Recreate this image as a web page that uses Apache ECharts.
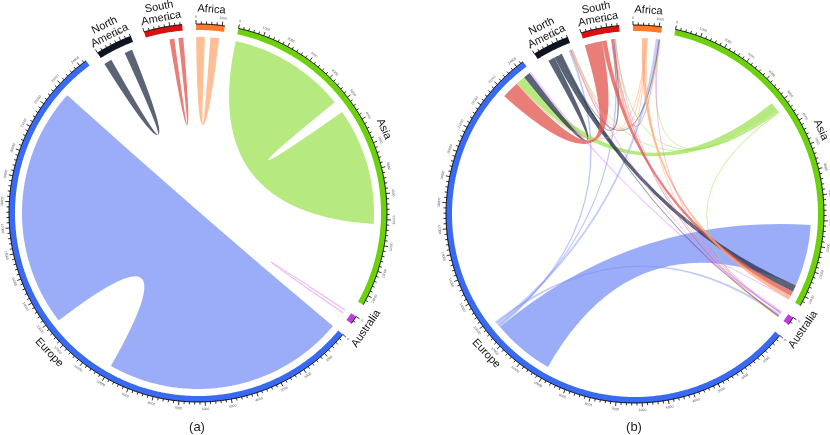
<!DOCTYPE html>
<html>
<head>
<meta charset="utf-8">
<script src="https://cdn.jsdelivr.net/npm/echarts@6/dist/echarts.min.js"></script>
<style>
  html, body { margin: 0; background: #fff; }
  #main { width: 830px; height: 435px; }
</style>
</head>
<body>
<div id="main"></div>
<script>
// regions, clockwise from the top
const regions = ['Africa', 'Asia', 'Australia', 'Europe', 'North America', 'South America'];
const regionLabels = ['Africa', 'Asia', 'Australia', 'Europe', 'North\nAmerica', 'South\nAmerica'];

// flows inside one region, panel (a): region, value, slot of first end, slot of second end
const selfFlows = [
  ['Europe', 10000, 6, 0],
  ['Asia', 4850, 0, 6],
  ['North America', 330, 0, 6],
  ['South America', 200, 2, 11],
  ['Africa', 360, 0, 6],
  ['Australia', 45, 0, 6]
];

// flows between regions, panel (b): from, to, value, slot at source, slot at target
const crossFlows = [
  ['Europe', 'Asia', 2560, 1, 7],
  ['Europe', 'North America', 60, 2, 7],
  ['Europe', 'South America', 50, 3, 6],
  ['Europe', 'Africa', 100, 4, 7],
  ['Europe', 'Australia', 75, 5, 7],
  ['Asia', 'Europe', 375, 1, 9],
  ['Asia', 'Africa', 25, 2, 8],
  ['Asia', 'North America', 40, 3, 10],
  ['Asia', 'South America', 25, 4, 9],
  ['Asia', 'Australia', 25, 5, 10],
  ['North America', 'Europe', 280, 1, 10],
  ['North America', 'Asia', 280, 2, 8],
  ['North America', 'South America', 20, 3, 7],
  ['North America', 'Africa', 12, 4, 9],
  ['North America', 'Australia', 20, 5, 8],
  ['South America', 'Europe', 720, 0, 7],
  ['South America', 'Asia', 190, 1, 9],
  ['South America', 'North America', 25, 3, 8],
  ['South America', 'Africa', 12, 4, 10],
  ['South America', 'Australia', 12, 5, 9],
  ['Africa', 'Asia', 150, 1, 10],
  ['Africa', 'Europe', 25, 2, 8],
  ['Africa', 'North America', 20, 3, 9],
  ['Africa', 'South America', 20, 4, 8],
  ['Africa', 'Australia', 6, 5, 11],
  ['Australia', 'Europe', 60, 1, 11],
  ['Australia', 'Asia', 12, 2, 11],
  ['Australia', 'Africa', 12, 3, 11],
  ['Australia', 'North America', 6, 4, 11],
  ['Australia', 'South America', 6, 5, 10]
];

const tickMinor = 200;
const tickMajor = 1000;

const ringColors = ['#ff7a2b', '#6cd10a', '#c03ddd', '#386af3', '#0e1522', '#d9120f'];
const ribbonColors = [
  'rgba(255,168,115,0.75)', 'rgba(158,227,86,0.75)', 'rgba(222,128,234,0.75)',
  'rgba(122,146,247,0.75)', 'rgba(36,48,74,0.75)', 'rgba(226,83,75,0.75)'
];

const PAD_DEG = 4.2;
const R_RING = 189, RING_W = 6, R_RIB = 176;
const FONT = 'Liberation Sans, Arial, sans-serif';

// ---- layout: each flow takes its value at both of its ends ----
const allFlows = selfFlows.map(f => [f[0], f[0], f[1], f[2], f[3]]).concat(crossFlows);
const ends = regions.map(() => []);
allFlows.forEach((f, k) => {
  ends[regions.indexOf(f[0])].push({ slot: f[3], flow: k, side: 0, value: f[2] });
  ends[regions.indexOf(f[1])].push({ slot: f[4], flow: k, side: 1, value: f[2] });
});
const regionSize = ends.map(list => list.reduce((s, e) => s + e.value, 0));
const used = regionSize.reduce((a, b) => a + b, 0);
const total = used / (1 - regions.length * PAD_DEG / 360);
const pad = total * PAD_DEG / 360;
const STEP = total / 720;

const regionStart = [];
const endPos = allFlows.map(() => [null, null]);
let cursor = 0;
regions.forEach((r, i) => {
  regionStart[i] = cursor;
  let c = cursor;
  ends[i].sort((a, b) => a.slot - b.slot).forEach(e => {
    endPos[e.flow][e.side] = [c, c + e.value];
    c += e.value;
  });
  cursor += regionSize[i] + pad;
});

const ringData = regions.map((r, i) => [R_RING, regionStart[i], regionStart[i] + regionSize[i], i]);
function flowData(from, to) {
  const out = [];
  for (let k = from; k < to; k++) {
    const f = allFlows[k];
    const a = endPos[k][0], b = endPos[k][1];
    out.push([R_RIB, a[0], a[1], b[0], b[1], regions.indexOf(f[0]), f[2]]);
  }
  return out;
}
const selfData = flowData(0, selfFlows.length);
const crossData = flowData(selfFlows.length, allFlows.length);

// ---- drawing helpers ----
function arc(api, r, from, to) {
  const n = Math.max(2, Math.ceil(Math.abs(to - from) / STEP) + 1);
  const pts = [];
  for (let k = 0; k < n; k++) pts.push(api.coord([r, from + (to - from) * k / (n - 1)]));
  return pts;
}
function tangentRotation(api, v) {
  const p = api.coord([100, v]), c = api.coord([0, v]);
  let t = Math.atan2(p[0] - c[0], c[1] - p[1]);
  if (t < 0) t += Math.PI * 2;
  return (t > Math.PI / 2 && t < Math.PI * 1.5) ? Math.PI - t : -t;
}
const fmt = p => p[0].toFixed(2) + ' ' + p[1].toFixed(2);

function renderRing(params, api) {
  const a0 = api.value(1), a1 = api.value(2), i = api.value(3);
  const children = [];
  const outer = arc(api, R_RING, a0, a1);
  const inner = arc(api, R_RING - RING_W, a1, a0);
  children.push({ type: 'polygon', shape: { points: outer.concat(inner) }, style: { fill: ringColors[i] } });
  children.push({ type: 'polyline', shape: { points: outer }, style: { stroke: '#000', lineWidth: 0.9, fill: null } });
  for (let v = 0; v <= a1 - a0; v += tickMinor) {
    const major = v % tickMajor === 0;
    const p0 = api.coord([R_RING, a0 + v]);
    const p1 = api.coord([R_RING + (major ? 4 : 2.6), a0 + v]);
    children.push({ type: 'line', shape: { x1: p0[0], y1: p0[1], x2: p1[0], y2: p1[1] },
      style: { stroke: '#000', lineWidth: 0.8 } });
    if (major) {
      const pl = api.coord([R_RING + 7.2, a0 + v]);
      children.push({ type: 'text', x: pl[0], y: pl[1], rotation: tangentRotation(api, a0 + v),
        style: { text: String(v), fontSize: 3.4, fill: '#555', align: 'center', verticalAlign: 'middle', fontFamily: FONT } });
    }
  }
  const mid = (a0 + a1) / 2;
  const pn = api.coord([R_RING + 15, mid]);
  children.push({ type: 'text', x: pn[0], y: pn[1], rotation: tangentRotation(api, mid),
    style: { text: regionLabels[i], fontSize: 11, lineHeight: 11.5, fill: '#111', align: 'center',
      verticalAlign: 'middle', fontFamily: FONT } });
  return { type: 'group', children: children };
}

function renderRibbon(params, api) {
  const a0 = api.value(1), a1 = api.value(2), b0 = api.value(3), b1 = api.value(4);
  const s = api.value(5), v = api.value(6);
  const c = api.coord([0, 0]);
  const pa = arc(api, R_RIB, a0, a1), pb = arc(api, R_RIB, b0, b1);
  let d = 'M' + fmt(pa[0]);
  for (let k = 1; k < pa.length; k++) d += 'L' + fmt(pa[k]);
  d += 'Q' + fmt(c) + ' ' + fmt(pb[0]);
  for (let k = 1; k < pb.length; k++) d += 'L' + fmt(pb[k]);
  d += 'Q' + fmt(c) + ' ' + fmt(pa[0]) + 'Z';
  const thin = v < 120;
  return { type: 'path', shape: { pathData: d },
    style: { fill: ribbonColors[s], stroke: thin ? ribbonColors[s] : null, lineWidth: thin ? 0.6 : 0,
      opacity: thin ? 0.55 : 1 } };
}

const chart = echarts.init(document.getElementById('main'), null, { renderer: 'canvas' });
const hiddenAxis = { show: false, axisLine: { show: false }, axisTick: { show: false },
  axisLabel: { show: false }, splitLine: { show: false }, splitArea: { show: false } };

chart.setOption({
  animation: false,
  backgroundColor: '#fff',
  polar: [
    { center: [198, 213], radius: R_RING },
    { center: [635, 214], radius: R_RING }
  ],
  angleAxis: [0, 1].map(k => Object.assign({ polarIndex: k, type: 'value', min: 0, max: total,
    startAngle: 90.6, clockwise: true }, hiddenAxis)),
  radiusAxis: [0, 1].map(k => Object.assign({ polarIndex: k, type: 'value', min: 0, max: R_RING }, hiddenAxis)),
  graphic: [
    { type: 'text', x: 197, y: 427, style: { text: '(a)', fontSize: 13, fill: '#222', align: 'center', verticalAlign: 'middle', fontFamily: FONT } },
    { type: 'text', x: 634, y: 427, style: { text: '(b)', fontSize: 13, fill: '#222', align: 'center', verticalAlign: 'middle', fontFamily: FONT } }
  ],
  series: [
    { type: 'custom', coordinateSystem: 'polar', polarIndex: 0, silent: true, clip: false, data: selfData, renderItem: renderRibbon },
    { type: 'custom', coordinateSystem: 'polar', polarIndex: 1, silent: true, clip: false, data: crossData, renderItem: renderRibbon },
    { type: 'custom', coordinateSystem: 'polar', polarIndex: 0, silent: true, clip: false, data: ringData, renderItem: renderRing },
    { type: 'custom', coordinateSystem: 'polar', polarIndex: 1, silent: true, clip: false, data: ringData, renderItem: renderRing }
  ]
});
</script>
</body>
</html>
